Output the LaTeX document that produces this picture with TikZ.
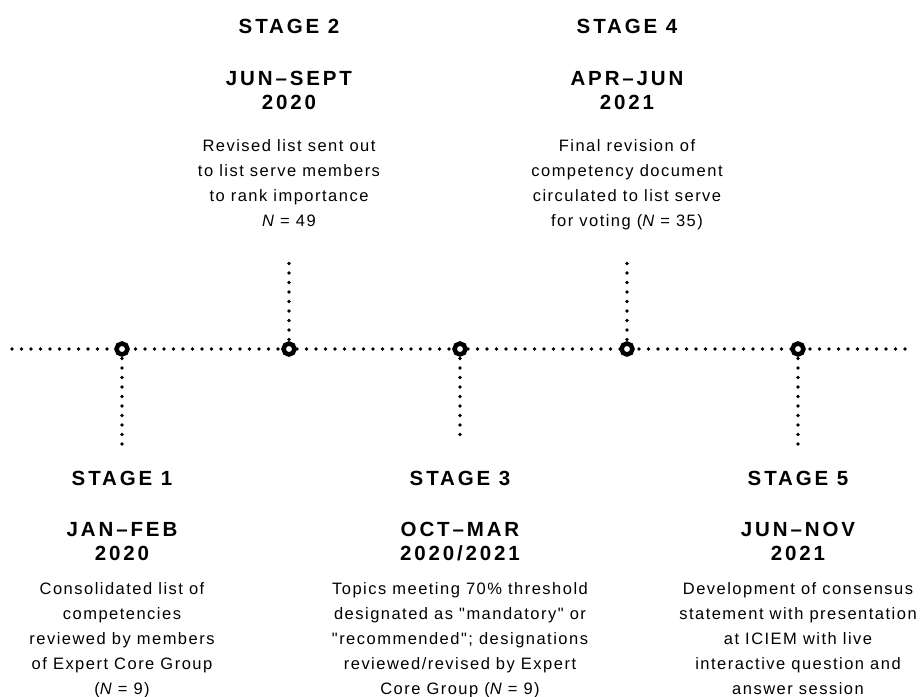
\documentclass[tikz,border=0pt]{standalone}
\usepackage{fontspec}
\setmainfont{Liberation Sans}
\newfontfamily\headfont[LetterSpace=14]{Liberation Sans}
\newfontfamily\bodyfont[LetterSpace=9]{Liberation Sans}
\usetikzlibrary{positioning}
\tikzset{ring/.style = {draw, circle, line width=4.5pt, fill=white, inner sep=0, minimum size=11pt}}
\tikzset{dots/.style = {line width=3.8pt, line cap=round, dash pattern=on 0pt off 9.5pt}}
\tikzset{stagehead/.style = {font=\headfont\bfseries\fontsize{20.5}{24}\selectfont,
                             align=center, anchor=base, inner sep=0}}
\tikzset{stagetext/.style = {font=\bodyfont\fontsize{16.5}{25}\selectfont,
                             align=center, anchor=base, inner sep=0}}

\begin{document}
\begin{tikzpicture}[x=1pt, y=-1pt]
    \useasboundingbox (0, 0) rectangle (920, 696);

    % timeline
    \coordinate (left) at (12, 349);
    \coordinate (right) at (908, 349);
    \draw [dots] (left) -- (right);

    % stages below the line
    \foreach \x/\name/\len in {122/one/101, 460/three/89, 798/five/101} {
      \coordinate (\name end) at (\x, 349 + \len);
      \draw [dots] (\x, 349) -- (\name end);
    }
    % stages above the line
    \foreach \x/\name in {289/two, 627/four} {
      \coordinate (\name end) at (\x, 257);
      \draw [dots] (\x, 349) -- (\name end);
    }
    \foreach \x/\name in {122/one, 289/two, 460/three, 627/four, 798/five} {
      \node [ring] (\name) at (\x, 349) {};
    }

    % stage 1 (multi-line nodes sit on the baseline of their last line)
    \node [stagehead] (head1) at (122, 485) {STAGE 1};
    \node [stagehead] (date1) at (122, 560) {JAN–FEB\\2020};
    \node [stagetext] (text1) at (122, 694) {Consolidated list of\\competencies\\reviewed by members\\of Expert Core Group\\({\itshape N} = 9)};

    % stage 2
    \node [stagehead] (head2) at (289, 33) {STAGE 2};
    \node [stagehead] (date2) at (289, 109) {JUN–SEPT\\2020};
    \node [stagetext] (text2) at (289, 226) {Revised list sent out\\to list serve members\\to rank importance\\{\itshape N} = 49};

    % stage 3
    \node [stagehead] (head3) at (460, 485) {STAGE 3};
    \node [stagehead] (date3) at (460, 560) {OCT–MAR\\2020/2021};
    \node [stagetext] (text3) at (460, 694) {Topics meeting 70\% threshold\\designated as "mandatory" or\\"recommended"; designations\\reviewed/revised by Expert\\Core Group ({\itshape N} = 9)};

    % stage 4
    \node [stagehead] (head4) at (627, 33) {STAGE 4};
    \node [stagehead] (date4) at (627, 109) {APR–JUN\\2021};
    \node [stagetext] (text4) at (627, 226) {Final revision of\\competency document\\circulated to list serve\\for voting ({\itshape N} = 35)};

    % stage 5
    \node [stagehead] (head5) at (798, 485) {STAGE 5};
    \node [stagehead] (date5) at (798, 560) {JUN–NOV\\2021};
    \node [stagetext] (text5) at (798, 694) {Development of consensus\\statement with presentation\\at ICIEM with live\\interactive question and\\answer session};
\end{tikzpicture}
\end{document}
